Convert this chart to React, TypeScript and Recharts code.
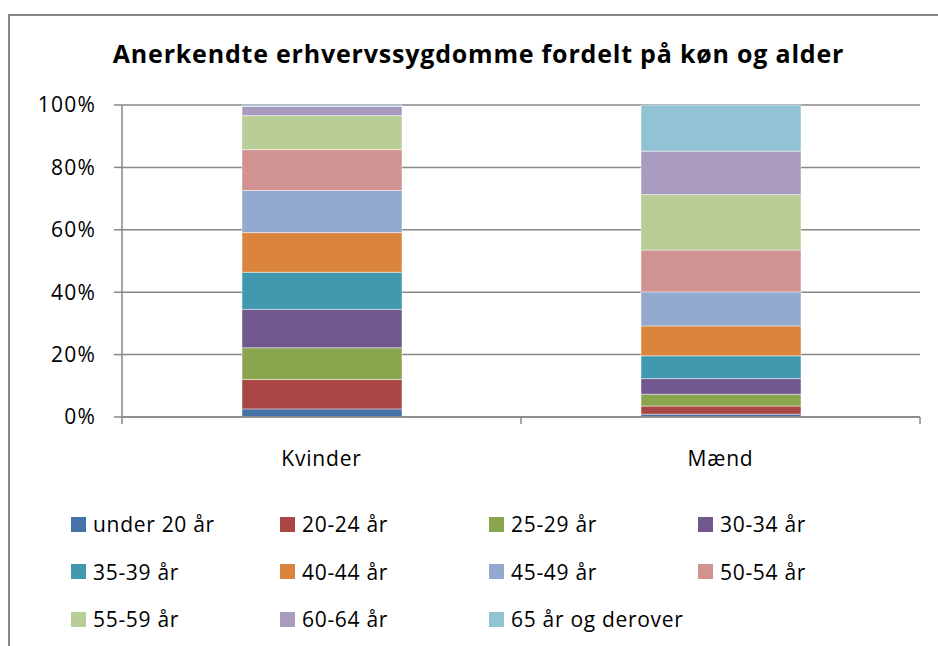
import { Bar, BarChart, CartesianGrid, Legend, XAxis, YAxis } from "recharts"

const CATEGORIES = ["Kvinder", "Mænd"]

const AGE_GROUPS = [
    "under 20 år",
    "20-24 år",
    "25-29 år",
    "30-34 år",
    "35-39 år",
    "40-44 år",
    "45-49 år",
    "50-54 år",
    "55-59 år",
    "60-64 år",
    "65 år og derover",
]

// andel i procent, læst af figuren
const KVINDER = [2.6, 9.4, 10.2, 12.3, 11.9, 12.7, 13.5, 13.1, 10.9, 2.9, 0.5]
const MAEND = [0.9, 2.6, 3.8, 5.0, 7.3, 9.6, 10.9, 13.4, 17.8, 13.9, 14.8]

const COLORS = [
    "#4572A7",
    "#AA4643",
    "#89A54E",
    "#71588F",
    "#4198AF",
    "#DB843D",
    "#93A9CF",
    "#D19392",
    "#B9CD96",
    "#A99BBD",
    "#92C3D4",
]

const Y_TICKS = [0, 0.2, 0.4, 0.6, 0.8, 1]

const FONT = "'Open Sans', sans-serif"
const AXIS_GRAY = "#878787"
const LABEL_GAP = 34

const data = CATEGORIES.map((name, i) => {
    const values = i === 0 ? KVINDER : MAEND
    const row: Record<string, string | number> = { name }
    AGE_GROUPS.forEach((_, k) => {
        row[`s${k}`] = values[k]
    })
    return row
})

// kategoriaksen: tekst under midten og små streger ved kategoriernes grænser
const CategoryTick = (props: any) => {
    const { x, y, payload, index, visibleTicksCount } = props
    const half = payload?.offset ?? 0
    const axisY = y - LABEL_GAP
    return (
        <g>
            <line x1={x - half} x2={x - half} y1={axisY} y2={axisY + 7} stroke={AXIS_GRAY} strokeWidth={1.5} />
            {index === visibleTicksCount - 1 && (
                <line x1={x + half} x2={x + half} y1={axisY} y2={axisY + 7} stroke={AXIS_GRAY} strokeWidth={1.5} />
            )}
            <text
                x={x}
                y={y}
                dy="0.71em"
                textAnchor="middle"
                fill="#000"
                fontSize={21}
                fontFamily={FONT}
                letterSpacing={0.8}
            >
                {payload.value}
            </text>
        </g>
    )
}

const LegendGrid = () => (
    <div style={{ position: "relative", width: 860, height: 150, fontFamily: FONT }}>
        {AGE_GROUPS.map((label, k) => (
            <div
                key={label}
                style={{
                    position: "absolute",
                    left: (k % 4) * 209,
                    top: Math.floor(k / 4) * 47.5,
                    display: "flex",
                    alignItems: "center",
                    height: 24,
                    fontSize: 21,
                    letterSpacing: 0.7,
                    color: "#000",
                    whiteSpace: "nowrap",
                }}
            >
                <span
                    style={{ width: 15, height: 15, background: COLORS[k], marginRight: 7, display: "inline-block" }}
                />
                {label}
            </div>
        ))}
    </div>
)

const App = () => {
    return (
        <div style={{ position: "absolute", left: 0, top: 0, width: 938, height: 646, overflow: "hidden", background: "#fff" }}>
            <div
                style={{
                    position: "absolute",
                    left: 8,
                    top: 14,
                    width: 1000,
                    height: 1000,
                    borderTop: `2px solid ${AXIS_GRAY}`,
                    borderLeft: `2px solid ${AXIS_GRAY}`,
                }}
            />
            <div
                style={{
                    position: "absolute",
                    left: 0,
                    top: 36,
                    width: 957,
                    textAlign: "center",
                    fontFamily: FONT,
                    fontWeight: 700,
                    fontSize: 25,
                    letterSpacing: 0.8,
                    lineHeight: "34px",
                    color: "#000",
                }}
            >
                Anerkendte erhvervssygdomme fordelt på køn og alder
            </div>
            <BarChart
                style={{ position: "absolute", left: 0, top: 0 }}
                width={938}
                height={646}
                data={data}
                stackOffset="expand"
                barSize={160}
                margin={{ top: 105, right: 18, left: 0, bottom: 228 }}
            >
                <CartesianGrid vertical={false} stroke={AXIS_GRAY} strokeWidth={1.5} />
                <XAxis
                    dataKey="name"
                    axisLine={{ stroke: AXIS_GRAY, strokeWidth: 1.5 }}
                    tickLine={false}
                    tickSize={8}
                    tickMargin={LABEL_GAP - 8}
                    tick={<CategoryTick />}
                    interval={0}
                    height={1}
                />
                <YAxis
                    domain={[0, 1]}
                    ticks={Y_TICKS}
                    tickFormatter={(v: number) => `${Math.round(v * 100)}%`}
                    axisLine={{ stroke: AXIS_GRAY, strokeWidth: 1.5 }}
                    tickLine={{ stroke: AXIS_GRAY, strokeWidth: 1.5 }}
                    tickSize={8}
                    tickMargin={18}
                    tick={{ fill: "#000", fontSize: 21, fontFamily: FONT, letterSpacing: 1.2 }}
                    width={122}
                />
                <Legend
                    layout="horizontal"
                    verticalAlign="middle"
                    align="center"
                    wrapperStyle={{ left: 71, top: 512, width: 860, height: 150 }}
                    content={() => <LegendGrid />}
                />
                {AGE_GROUPS.map((label, k) => (
                    <Bar
                        key={label}
                        dataKey={`s${k}`}
                        name={label}
                        stackId="a"
                        fill={COLORS[k]}
                        stroke="#ffffff"
                        strokeOpacity={0.45}
                        strokeWidth={1}
                        isAnimationActive={false}
                    />
                ))}
            </BarChart>
        </div>
    )
}

export default App
